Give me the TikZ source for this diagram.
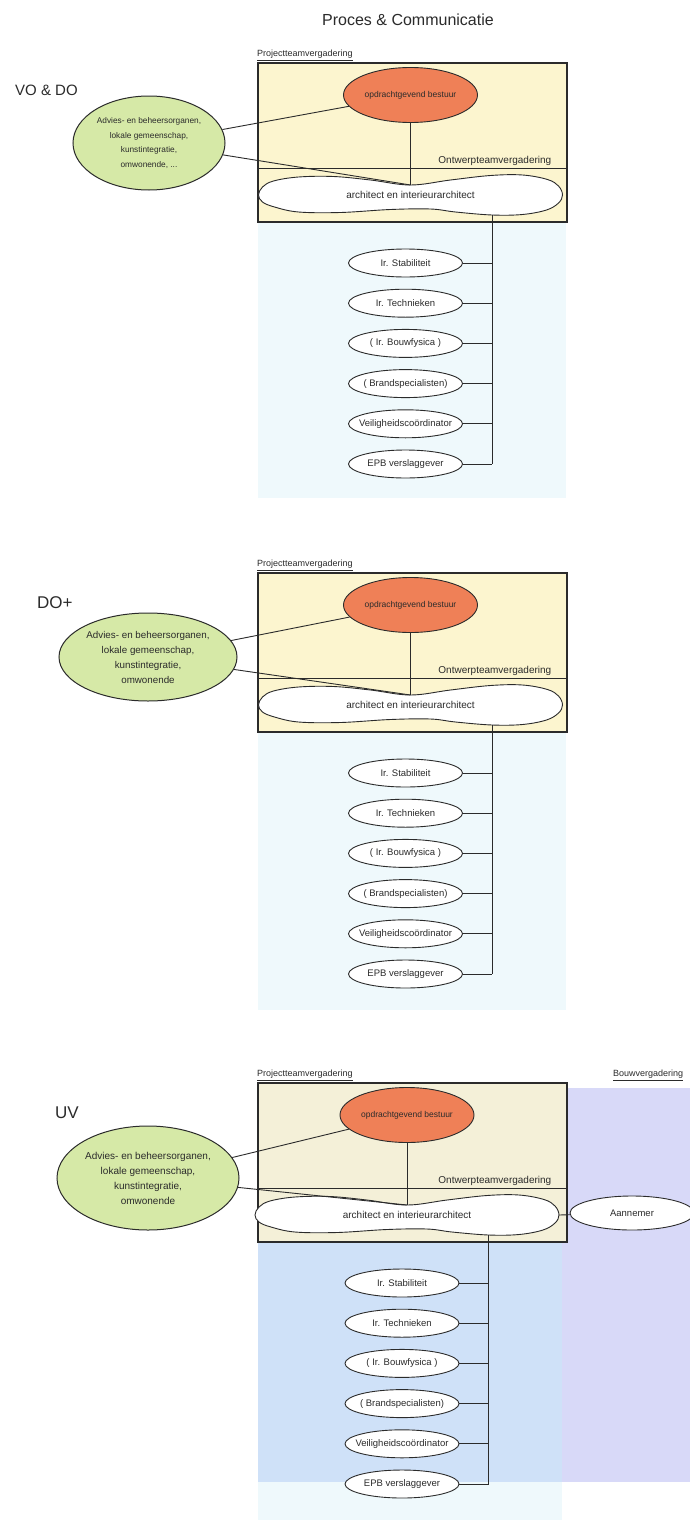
\documentclass[tikz,border=0pt]{standalone}
\usepackage{fontspec}
\setmainfont{Liberation Sans}
\usetikzlibrary{shapes.geometric}

\definecolor{ink}{HTML}{2B2B2B}
\definecolor{roomcream}{HTML}{FCF5CF}
\definecolor{roomcreamb}{HTML}{F4F0D8}
\definecolor{clientorange}{HTML}{EF8057}
\definecolor{advgreen}{HTML}{D6E9A7}
\definecolor{paleCyan}{HTML}{EFF9FC}
\definecolor{siteblue}{HTML}{CFE1F8}
\definecolor{sitelavender}{HTML}{D8D9F8}

\newcommand\fixw[1]{\makebox[0pt]{#1}}

\tikzset{
  thinline/.style={draw=ink, line width=0.9pt},
  roomline/.style={draw=ink, line width=2pt},
  meetlbl/.style={inner sep=1pt, text=ink, font=\fontsize{9}{11}\selectfont},
  subroom/.style={inner sep=1.5pt, text=ink, font=\fontsize{10}{12}\selectfont},
  phase/.style={inner sep=0pt, text=ink},
  client/.style={ellipse, draw=ink, line width=0.9pt, fill=clientorange, inner sep=0pt,
    minimum width=134pt, minimum height=55pt, text=ink, font=\fontsize{8.5}{10}\selectfont},
  adv/.style={ellipse, draw=ink, line width=1pt, fill=advgreen, inner sep=0pt, align=center, text=ink},
  consult/.style={ellipse, draw=ink, line width=0.9pt, fill=white, inner sep=0pt,
    minimum width=114pt, minimum height=28pt, text=ink, font=\fontsize{9.5}{11}\selectfont},
  wavy/.style={draw=ink, line width=0.9pt, fill=white},
  archtext/.style={inner sep=0pt, text=ink, font=\fontsize{10}{12}\selectfont},
}

% One meeting structure: project team room, design team shape and the consultants.
% #1 name prefix, #2 x centre of the design team, #3 fill of the room
\newcommand\corepanel[3]{%
  \node[meetlbl, anchor=south west] (#1-ptv) at (256,62) {\underline{Projectteamvergadering}};
  \draw[roomline, fill=#3] (258,63) rectangle (567,222);
  \coordinate (#1-otl) at (258,168);
  \coordinate (#1-otr) at (567,168);
  \draw[thinline] (#1-otl) -- (#1-otr);
  \node[subroom, anchor=south east] (#1-otv) at (553,167) {Ontwerpteamvergadering};
  \node[client] (#1-client) at (#2,95) {opdrachtgevend bestuur};
  \begin{scope}[shift={(#2,193)}]
    \draw[wavy] plot[smooth cycle, tension=0.6] coordinates {
      (-152,2) (-148,-6) (-137,-12) (-112,-16) (-77,-16.5) (-40,-13) (0,-8) (40,-13)
      (80,-17.5) (112,-18) (137,-13.5) (148,-7) (152,2) (148,10) (136,17) (112,21.5) (81.5,22)
      (45,19) (20,16) (-20,16.5) (-70,19.5) (-112,19) (-136,14) (-148,9)};
    \coordinate (#1-archtop) at (0,-8);
    \coordinate (#1-archfoot) at (81.5,22);
    \coordinate (#1-archend) at (152,2);
    \node[archtext] (#1-arch) at (0,2) {architect en interieurarchitect};
  \end{scope}
  \draw[thinline] (#1-client.south) -- (#1-archtop);
  \foreach \t [count=\i] in {{Ir. Stabiliteit}, {Ir. Technieken}, {( Ir. Bouwfysica )},
      {( Brandspecialisten)}, {Veiligheidscoördinator}, {EPB verslaggever}} {
    \node[consult] (#1-c\i) at (#2-5, 263+40.2*\i-40.2) {\fixw{\t}};
    \draw[thinline] (#1-c\i.east) -- (#1-c\i.east -| #1-archfoot);
  }
  \draw[thinline] (#1-archfoot) -- (#1-archfoot |- #1-c6.east);
}

\begin{document}
\begin{tikzpicture}[x=1pt, y=-1pt]
\useasboundingbox (0,0) rectangle (690,1520);
\fill[white] (0,0) rectangle (690,1520);

\node[phase, font=\fontsize{16}{19}\selectfont] (title) at (408,20) {Proces \& Communicatie};

% ---------- VO & DO ----------
\fill[paleCyan] (258,222) rectangle (566,498);
\corepanel{pa}{410.5}{roomcream}
\node[phase, font=\fontsize{15}{18}\selectfont, anchor=west] (pa-phase) at (15,90) {VO \& DO};
\node[adv, minimum width=152pt, minimum height=94pt, font=\fontsize{8.3}{14.5}\selectfont]
  (pa-adv) at (149,143) {Advies- en beheersorganen,\\lokale gemeenschap,\\kunstintegratie,\\omwonende, ...};
\draw[thinline] (pa-adv) -- (pa-client);
\draw[thinline] (pa-adv) -- (pa-archtop);

% ---------- DO+ ----------
\begin{scope}[shift={(0,510)}]
  \fill[paleCyan] (258,222) rectangle (566,500);
  \corepanel{pb}{410.5}{roomcream}
  \node[phase, font=\fontsize{17}{20}\selectfont, anchor=west] (pb-phase) at (37,93) {DO+};
  \node[adv, minimum width=178pt, minimum height=88pt, font=\fontsize{9.8}{15}\selectfont]
    (pb-adv) at (148,147) {Advies- en beheersorganen,\\lokale gemeenschap,\\kunstintegratie,\\omwonende};
  \draw[thinline] (pb-adv) -- (pb-client);
  \draw[thinline] (pb-adv) -- (pb-archtop);
\end{scope}

% ---------- UV ----------
\begin{scope}[shift={(0,1020)}]
  \fill[siteblue] (258,68) rectangle (562,462);
  \fill[sitelavender] (562,68) rectangle (690,462);
  \fill[paleCyan] (258,462) rectangle (562,500);
  \node[meetlbl, anchor=south west] (pc-bv) at (612,62) {\underline{Bouwvergadering}};
  \corepanel{pc}{407}{roomcreamb}
  \node[phase, font=\fontsize{17}{20}\selectfont, anchor=west] (pc-phase) at (55,93) {UV};
  \node[adv, minimum width=182pt, minimum height=104pt, font=\fontsize{10}{15}\selectfont]
    (pc-adv) at (148,158) {Advies- en beheersorganen,\\lokale gemeenschap,\\kunstintegratie,\\omwonende};
  \draw[thinline] (pc-adv) -- (pc-client);
  \draw[thinline] (pc-adv) -- (pc-archtop);
  \node[consult, minimum width=124pt, minimum height=34pt, font=\fontsize{9.5}{11}\selectfont]
    (pc-ann) at (632,193) {Aannemer};
  \draw[thinline] (pc-archend) -- (pc-ann);
\end{scope}
\end{tikzpicture}
\end{document}
